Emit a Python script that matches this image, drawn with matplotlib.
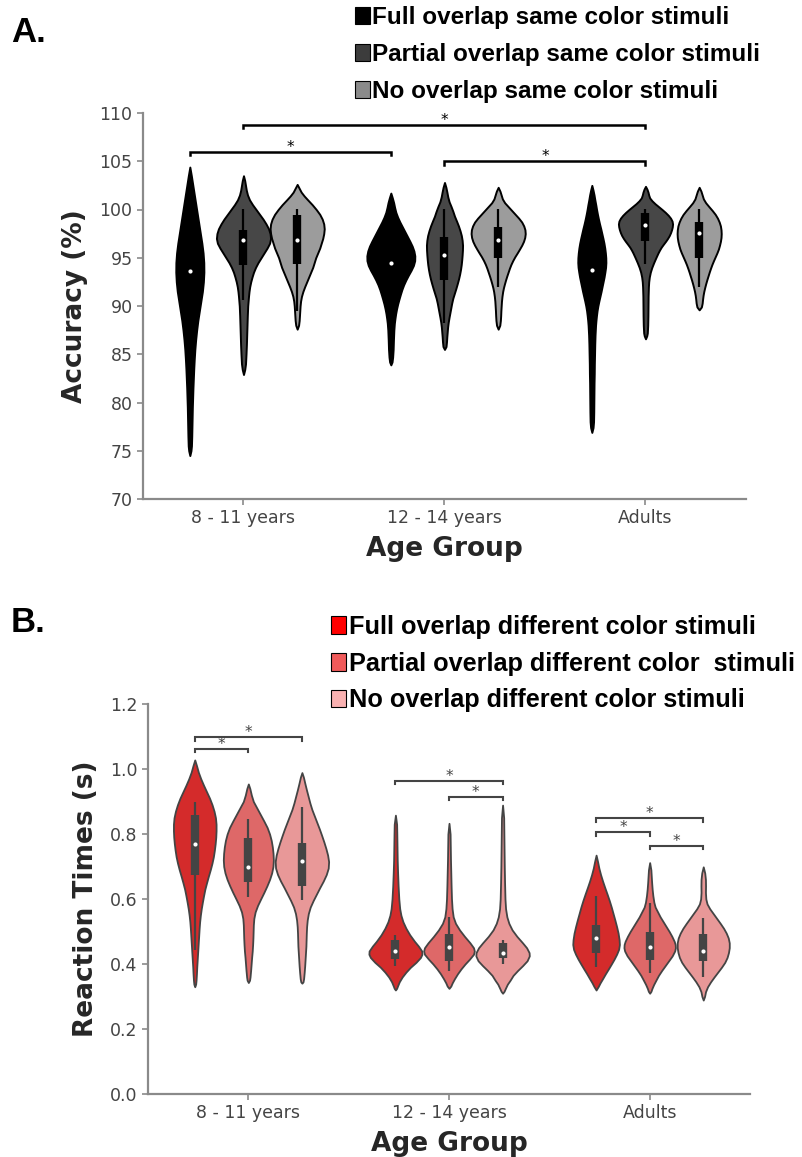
import matplotlib
matplotlib.use("Agg")
import matplotlib.pyplot as plt
from matplotlib.patches import Patch

# ── Data ─────────────────────────────────────────────────────────────────────

AGE_GROUPS = ["8 - 11 years", "12 - 14 years", "Adults"]

ACC_LABELS = ["Full overlap same color stimuli",
              "Partial overlap same color stimuli",
              "No overlap same color stimuli"]
RT_LABELS = ["Full overlap different color stimuli",
             "Partial overlap different color  stimuli",
             "No overlap different color stimuli"]

# violin outlines: accuracy levels (%) and relative density at each level,
# ordered group by group (full, partial, no overlap)
ACC_LEVELS = [
    [104.4, 103.5, 102.5, 101.5, 100.5, 99.5, 98.5, 97.5, 96.5, 95.5, 94.5, 93.5, 92.5, 91.5, 90.5, 89.5,
     88.5, 87.5, 86.5, 85.5, 84.5, 83.5, 82.5, 81.5, 80.5, 79.5, 78.5, 77.5, 76.5, 75.5, 75.0, 74.5],
    [103.5, 103.0, 102.5, 102.0, 101.5, 101.0, 100.5, 100.0, 99.5, 99.0, 98.5, 98.0, 97.5, 97.0, 96.5, 96.0,
     95.5, 95.0, 94.5, 94.0, 93.5, 93.0, 92.5, 92.0, 91.5, 91.0, 90.0, 89.0, 88.0, 87.0, 86.0, 85.0, 84.0,
     83.4, 82.9],
    [102.6, 102.2, 101.8, 101.4, 101.0, 100.5, 100.0, 99.5, 99.0, 98.5, 98.0, 97.5, 97.0, 96.5, 96.0, 95.5,
     95.0, 94.5, 94.0, 93.5, 93.0, 92.5, 92.0, 91.5, 91.0, 90.5, 90.0, 89.5, 89.0, 88.5, 88.0, 87.6],
    [101.7, 101.2, 100.7, 100.2, 99.7, 99.2, 98.7, 98.2, 97.7, 97.2, 96.7, 96.2, 95.7, 95.2, 94.7, 94.2,
     93.7, 93.2, 92.7, 92.2, 91.7, 91.2, 90.7, 90.2, 89.7, 89.2, 88.7, 88.2, 87.5, 86.5, 85.5, 84.7, 84.2,
     83.9],
    [102.8, 102.3, 101.8, 101.3, 100.8, 100.3, 99.8, 99.3, 98.8, 98.3, 97.8, 97.3, 96.8, 96.3, 95.8, 95.3,
     94.8, 94.3, 93.8, 93.3, 92.8, 92.3, 91.8, 91.3, 90.8, 90.3, 89.8, 89.3, 88.8, 88.3, 87.8, 87.3, 86.8,
     86.3, 85.8, 85.5],
    [102.3, 101.9, 101.5, 101.1, 100.7, 100.3, 99.9, 99.5, 99.1, 98.7, 98.3, 97.9, 97.5, 97.1, 96.7, 96.3,
     95.9, 95.5, 95.1, 94.7, 94.3, 93.9, 93.5, 93.1, 92.7, 92.3, 91.9, 91.5, 91.0, 90.5, 90.0, 89.5, 89.0,
     88.5, 88.0, 87.6],
    [102.5, 102.0, 101.5, 101.0, 100.5, 100.0, 99.5, 99.0, 98.5, 98.0, 97.5, 97.0, 96.5, 96.0, 95.5, 95.0,
     94.5, 94.0, 93.5, 93.0, 92.5, 92.0, 91.5, 91.0, 90.5, 90.0, 89.5, 89.0, 88.5, 88.0, 87.0, 86.0, 85.0,
     84.0, 83.0, 82.0, 81.0, 80.0, 79.0, 78.0, 77.4, 76.9],
    [102.4, 102.1, 101.8, 101.5, 101.2, 100.9, 100.6, 100.3, 100.0, 99.7, 99.4, 99.1, 98.8, 98.5, 98.2, 97.9,
     97.6, 97.3, 97.0, 96.7, 96.4, 96.1, 95.8, 95.5, 95.0, 94.5, 94.0, 93.5, 93.0, 92.5, 92.0, 91.0, 90.0,
     89.0, 88.0, 87.2, 86.9, 86.6],
    [102.3, 101.9, 101.5, 101.1, 100.7, 100.3, 99.9, 99.5, 99.1, 98.7, 98.3, 97.9, 97.5, 97.1, 96.7, 96.3,
     95.9, 95.5, 95.1, 94.7, 94.3, 93.9, 93.5, 93.1, 92.7, 92.3, 91.9, 91.5, 91.1, 90.7, 90.3, 89.9, 89.6],
]
ACC_DENSITY = [
    [0, 1.5, 3, 4.5, 6, 7.5, 9, 10.5, 12, 13.2, 13.9, 14, 13.5, 12.5, 11, 9.5,
     8, 6.8, 5.8, 5, 4.4, 3.9, 3.5, 3.1, 2.8, 2.5, 2.3, 2.1, 1.9, 1.6, 1.1, 0],
    [0, 1.2, 2, 2.8, 4, 6, 9, 12.5, 16, 19.5, 22.5, 25, 26.5, 27, 26, 23.5,
     20.5, 17.5, 14.5, 12, 10, 8.5, 7.2, 6.2, 5.5, 5, 4.2, 3.8, 3.5, 3.2, 2.9, 2.5, 2,
     1.2, 0],
    [0, 2, 4, 7, 10.5, 15, 19, 22.5, 25, 26.5, 27, 26.5, 25.5, 24, 22.5, 20.5,
     18.5, 17, 15.5, 13.5, 11.5, 9.5, 7.5, 5.7, 4.3, 3.4, 2.9, 2.6, 2.3, 2, 1.4, 0],
    [0, 1.5, 2.8, 3.8, 5, 6.8, 9, 11.5, 14, 16.5, 19, 21.3, 23, 23.9, 23.8, 22.5,
     20.2, 17.5, 15, 12.8, 11, 9.5, 8.1, 6.8, 5.7, 4.8, 4.1, 3.5, 3, 2.6, 2.3, 1.8, 1.2,
     0],
    [0, 1.4, 2.4, 3.3, 4.6, 6.6, 8.4, 10, 12, 13.9, 15.5, 16.8, 17.6, 18, 17.9, 17.6,
     17.2, 16.7, 16, 15.1, 14, 12.7, 11.3, 9.8, 8.3, 7.2, 6.3, 5.4, 4.5, 3.7, 3.1, 2.7, 2.3,
     2, 1.5, 0],
    [0, 1.8, 3, 4.2, 6.5, 10, 13.5, 17, 20.5, 23.5, 25.5, 26.7, 27, 26.5, 25.3, 23.5,
     21.3, 19, 16.6, 14.5, 12.7, 11.2, 9.9, 8.6, 7.4, 6.3, 5.3, 4.5, 3.8, 3.3, 3, 2.7, 2.5,
     2.2, 1.6, 0],
    [0, 1.2, 2.2, 3, 3.9, 4.7, 5.6, 6.6, 7.7, 8.9, 10, 11.1, 12.1, 12.9, 13.5, 13.9,
     14, 13.7, 13, 12.2, 11.2, 10.2, 9.2, 8.1, 7, 6, 5.2, 4.6, 4.1, 3.7, 3.2, 2.9, 2.7,
     2.5, 2.4, 2.2, 2.1, 2, 1.9, 1.7, 1.2, 0],
    [0, 1.5, 2.5, 3.2, 4.2, 6.5, 9.5, 13, 16.5, 19.8, 22.7, 25, 26.5, 27, 26.7, 26,
     25, 23.7, 22, 20, 17.8, 15.7, 14, 12.5, 10.3, 8.2, 6.3, 4.8, 3.8, 3.2, 2.9, 2.6, 2.5,
     2.4, 2.2, 1.8, 1.2, 0],
    [0, 1.8, 3, 4.2, 6.5, 9.7, 13, 16, 18.3, 20, 21.2, 21.8, 22, 21.8, 21.2, 20.3,
     19.2, 17.7, 16, 14.3, 12.7, 11.3, 10, 8.8, 7.6, 6.5, 5.5, 4.6, 3.9, 3.4, 3, 2.2, 0],
]
ACC_MEDIAN = [93.65, 96.85, 96.85, 94.5, 95.3, 96.85, 93.75, 98.4, 97.6]
ACC_Q1 = [90.5, 94.3, 94.4, 92.5, 92.7, 95.0, 91.0, 96.7, 95.0]
ACC_Q3 = [97.0, 97.9, 99.4, 96.5, 97.2, 98.2, 96.5, 99.6, 98.7]
ACC_LO = [84.0, 90.6, 89.5, 88.5, 88.2, 92.0, 86.0, 94.4, 92.0]
ACC_HI = [101.0, 100.1, 100.1, 100.0, 100.1, 100.1, 100.0, 100.1, 100.1]
# significant pairs (violin index, violin index, bracket height)
ACC_SIG = [(1, 7, 108.75), (0, 3, 106.0), (4, 7, 105.0)]

RT_LEVELS = [
    [1.028, 1.010, 0.990, 0.970, 0.950, 0.930, 0.910, 0.890, 0.870, 0.850, 0.830, 0.810, 0.790, 0.770,
     0.750, 0.730, 0.710, 0.690, 0.670, 0.650, 0.630, 0.610, 0.590, 0.570, 0.550, 0.530, 0.510, 0.490,
     0.470, 0.450, 0.430, 0.410, 0.390, 0.370, 0.350, 0.338, 0.330],
    [0.954, 0.940, 0.920, 0.900, 0.880, 0.860, 0.840, 0.820, 0.800, 0.780, 0.760, 0.740, 0.720, 0.700,
     0.680, 0.660, 0.640, 0.620, 0.600, 0.580, 0.560, 0.540, 0.520, 0.500, 0.480, 0.460, 0.440, 0.420,
     0.400, 0.380, 0.360, 0.350, 0.343],
    [0.989, 0.975, 0.955, 0.935, 0.915, 0.895, 0.875, 0.855, 0.835, 0.815, 0.795, 0.775, 0.755, 0.735,
     0.715, 0.695, 0.675, 0.655, 0.635, 0.615, 0.595, 0.575, 0.555, 0.535, 0.515, 0.495, 0.475, 0.455,
     0.435, 0.415, 0.395, 0.375, 0.355, 0.345, 0.341],
    [0.858, 0.830, 0.800, 0.760, 0.720, 0.680, 0.640, 0.600, 0.570, 0.550, 0.530, 0.510, 0.490, 0.470,
     0.455, 0.440, 0.430, 0.420, 0.405, 0.390, 0.375, 0.360, 0.345, 0.333, 0.325, 0.320],
    [0.833, 0.800, 0.760, 0.720, 0.680, 0.640, 0.600, 0.570, 0.545, 0.525, 0.505, 0.485, 0.465, 0.450,
     0.440, 0.430, 0.415, 0.400, 0.385, 0.370, 0.355, 0.342, 0.332, 0.325],
    [0.889, 0.850, 0.800, 0.750, 0.700, 0.650, 0.600, 0.570, 0.545, 0.525, 0.505, 0.485, 0.465, 0.450,
     0.435, 0.425, 0.410, 0.395, 0.380, 0.365, 0.350, 0.338, 0.325, 0.316, 0.310],
    [0.735, 0.715, 0.695, 0.675, 0.655, 0.635, 0.615, 0.595, 0.575, 0.555, 0.535, 0.515, 0.495, 0.475,
     0.460, 0.445, 0.430, 0.415, 0.400, 0.385, 0.370, 0.355, 0.342, 0.330, 0.320],
    [0.712, 0.690, 0.670, 0.650, 0.630, 0.610, 0.590, 0.575, 0.560, 0.545, 0.530, 0.515, 0.500, 0.485,
     0.470, 0.460, 0.450, 0.440, 0.425, 0.410, 0.395, 0.380, 0.365, 0.350, 0.337, 0.325, 0.316, 0.310],
    [0.699, 0.680, 0.660, 0.640, 0.620, 0.600, 0.585, 0.570, 0.555, 0.540, 0.525, 0.510, 0.495, 0.480,
     0.465, 0.450, 0.435, 0.420, 0.405, 0.390, 0.375, 0.360, 0.345, 0.330, 0.315, 0.300, 0.289],
]
RT_DENSITY = [
    [0, 1.8, 3.6, 6, 8.8, 11.8, 14.8, 17.3, 19.3, 20.7, 21.3, 21.3, 21, 20.4,
     19.6, 18.6, 17.2, 15.5, 13.6, 11.8, 10.1, 8.8, 7.6, 6.5, 5.6, 4.9, 4.4, 4,
     3.6, 3.2, 2.8, 2.4, 2, 1.7, 1.3, 0.9, 0],
    [0, 1.5, 3, 5, 8.5, 12, 15.5, 18.8, 21.2, 22.9, 24, 24.7, 25, 24.6,
     23.3, 21.2, 18.5, 15.5, 12.3, 9.2, 6.8, 5.5, 5, 4.8, 4.6, 4.3, 3.9, 3.3,
     2.8, 2.3, 1.7, 1.2, 0],
    [0, 1.5, 3, 4.6, 6.3, 8, 10, 12.5, 15, 17.5, 19.8, 22, 24, 25.7,
     26.7, 26.3, 24.3, 21.3, 17.8, 14.5, 11.2, 8.3, 6.4, 5.3, 4.7, 4.4, 4.2, 4,
     3.6, 3.2, 2.8, 2.3, 1.7, 1.1, 0],
    [0, 1.2, 1.4, 1.6, 1.8, 2.2, 2.7, 3.4, 4.3, 5.5, 7.5, 10.5, 14.3, 19,
     23, 26.3, 26.5, 25, 20.5, 15, 10.5, 6.7, 3.8, 2.2, 1.2, 0],
    [0, 1.1, 1.3, 1.5, 1.8, 2.1, 2.5, 3.1, 4.2, 6.5, 10.5, 15.5, 21, 24.5,
     25.3, 24.5, 20.5, 16, 12, 8.5, 5.5, 3.2, 1.8, 0],
    [0, 1.1, 1.3, 1.5, 1.7, 2, 2.4, 3, 4.3, 6.3, 9.5, 14.3, 20, 24,
     26.5, 26.7, 24.5, 20, 15, 10.5, 7.5, 4.8, 2.8, 1.5, 0],
    [0, 1.5, 2.8, 4.5, 6.5, 8.7, 11, 13.2, 15.2, 17, 18.8, 20.5, 22, 23,
     23.3, 22.5, 20.5, 18, 15.2, 12.3, 9.3, 6.5, 4, 2, 0],
    [0, 1.2, 1.6, 2, 2.5, 3.2, 4.2, 5.5, 8, 10.5, 13.5, 16.5, 19.5, 22.2,
     24.5, 25.5, 25.7, 25, 22.5, 19, 15.5, 12, 8.8, 6.2, 4, 2.3, 1.3, 0],
    [0, 1.5, 2.2, 2.3, 2.2, 2.6, 3.8, 6.5, 10, 13.5, 17, 20.3, 23, 25,
     26, 26, 25.2, 23.8, 21.5, 18.2, 14.5, 10.8, 7.3, 4.3, 2.3, 1.3, 0],
]
RT_MEDIAN = [0.769, 0.697, 0.718, 0.440, 0.451, 0.433, 0.479, 0.453, 0.440]
RT_Q1 = [0.674, 0.651, 0.641, 0.415, 0.408, 0.418, 0.433, 0.413, 0.408]
RT_Q3 = [0.859, 0.789, 0.771, 0.475, 0.493, 0.466, 0.520, 0.497, 0.493]
RT_LO = [0.443, 0.607, 0.597, 0.395, 0.380, 0.400, 0.392, 0.371, 0.361]
RT_HI = [0.900, 0.847, 0.884, 0.490, 0.546, 0.475, 0.608, 0.587, 0.542]
RT_SIG = [(0, 1, 1.061), (0, 2, 1.097), (3, 5, 0.964), (4, 5, 0.915),
          (6, 8, 0.848), (6, 7, 0.805), (7, 8, 0.764)]

# ── Style ────────────────────────────────────────────────────────────────────

W, H = 802, 1157
DENS_SCALE = 200.5          # density units per x unit (one group = 1.0)
HUE_OFFSET = 0.267

GRAY_FILL = ["#000000", "#474747", "#9c9c9c"]
GRAY_KEY = ["#000000", "#3c3c3c", "#8a8a8a"]
RED_FILL = ["#d42b2b", "#de6868", "#e89898"]
RED_KEY = ["#ff0000", "#f05a5a", "#f9b1b1"]

SPINE = "#8a8a8a"
TICK_TXT = "#444444"
LABEL_TXT = "#262626"


def px_box(left, top, right, bottom):
    return [left / W, 1 - bottom / H, (right - left) / W, (bottom - top) / H]


def positions():
    return [g + off for g in range(len(AGE_GROUPS))
            for off in (-HUE_OFFSET, 0, HUE_OFFSET)]


def draw_violins(ax, levels, dens, med, q1, q3, lo, hi, fills, edge, box, lw):
    pos = positions()
    stats = [dict(coords=ys, vals=d, mean=m, median=m, min=min(ys), max=max(ys))
             for ys, d, m in zip(levels, dens, med)]
    widths = [2 * max(d) / DENS_SCALE for d in dens]
    parts = ax.violin(stats, positions=pos, widths=widths, showmeans=False,
                      showextrema=False, showmedians=False)
    for i, body in enumerate(parts["bodies"]):
        body.set_facecolor(fills[i % 3])
        body.set_edgecolor(edge)
        body.set_linewidth(lw)
        body.set_joinstyle("round")
        body.set_alpha(1)
        body.set_zorder(2)
    ax.vlines(pos, lo, hi, color=box, lw=1.6, zorder=3)
    ax.vlines(pos, q1, q3, color=box, lw=6, zorder=3)
    ax.scatter(pos, med, s=9, color="white", linewidths=0, zorder=4)


def draw_brackets(ax, sig, drop, color, lw):
    pos = positions()
    for i, j, h in sig:
        x0, x1 = pos[i], pos[j]
        ax.plot([x0, x0, x1, x1], [h - drop, h, h, h - drop],
                color=color, lw=lw, solid_joinstyle="miter")
        ax.text((x0 + x1) / 2, h, "*", ha="center", va="baseline",
                fontsize=11, color=color)


def style_axes(ax, ylabel):
    for side in ("top", "right"):
        ax.spines[side].set_visible(False)
    for side in ("left", "bottom"):
        ax.spines[side].set_color(SPINE)
        ax.spines[side].set_linewidth(1.6)
    ax.tick_params(colors=SPINE, labelcolor=TICK_TXT, labelsize=12.5,
                   length=4, width=1.2)
    ax.set_xlim(-0.5, 2.5)
    ax.set_xticks(range(len(AGE_GROUPS)))
    ax.set_xticklabels(AGE_GROUPS)
    ax.set_xlabel("Age Group", fontsize=19, fontweight="bold",
                  color=LABEL_TXT, labelpad=6)
    ax.set_ylabel(ylabel, fontsize=19, fontweight="bold",
                  color=LABEL_TXT, labelpad=8)


def add_key(colors, labels, left, top, size, spacing):
    fig.legend(handles=[Patch(facecolor=c, edgecolor="black", linewidth=0.8)
                        for c in colors],
               labels=labels, loc="upper left",
               bbox_to_anchor=(left / W, 1 - top / H), frameon=False,
               prop=dict(family="Liberation Sans", size=size, weight="bold"),
               handlelength=0.6, handleheight=0.7, handletextpad=0.1,
               labelspacing=spacing, borderpad=0, borderaxespad=0)


fig = plt.figure(figsize=(W / 100, H / 100), dpi=100)

# ── A. Accuracy ──────────────────────────────────────────────────────────────

ax_a = fig.add_axes(px_box(143, 113, 746, 499))
draw_violins(ax_a, ACC_LEVELS, ACC_DENSITY, ACC_MEDIAN, ACC_Q1, ACC_Q3,
             ACC_LO, ACC_HI, GRAY_FILL, "black", "black", 1.4)
draw_brackets(ax_a, ACC_SIG, 0.35, "black", 1.8)
ax_a.set_ylim(70, 110)
ax_a.set_yticks(range(70, 111, 5))
style_axes(ax_a, "Accuracy (%)")

fig.text(11 / W, 1 - 33 / H, "A.", fontsize=25, family="Liberation Sans",
         fontweight="bold", va="center", ha="left")
add_key(GRAY_KEY, ACC_LABELS, 355, 6, 17.5, 0.58)

# ── B. Reaction times ────────────────────────────────────────────────────────

ax_b = fig.add_axes(px_box(148, 704, 750, 1094))
draw_violins(ax_b, RT_LEVELS, RT_DENSITY, RT_MEDIAN, RT_Q1, RT_Q3,
             RT_LO, RT_HI, RED_FILL, "#444444", "#444444", 1.3)
draw_brackets(ax_b, RT_SIG, 0.01, "#444444", 1.5)
ax_b.set_ylim(0, 1.2)
ax_b.set_yticks([0.0, 0.2, 0.4, 0.6, 0.8, 1.0, 1.2])
ax_b.set_yticklabels([f"{v:.1f}" for v in ax_b.get_yticks()])
style_axes(ax_b, "Reaction Times (s)")

fig.text(11 / W, 1 - 622 / H, "B.", fontsize=25, family="Liberation Sans",
         fontweight="bold", va="center", ha="left")
add_key(RED_KEY, RT_LABELS, 331, 615, 18.2, 0.5)

plt.savefig("out.png", dpi=100)
